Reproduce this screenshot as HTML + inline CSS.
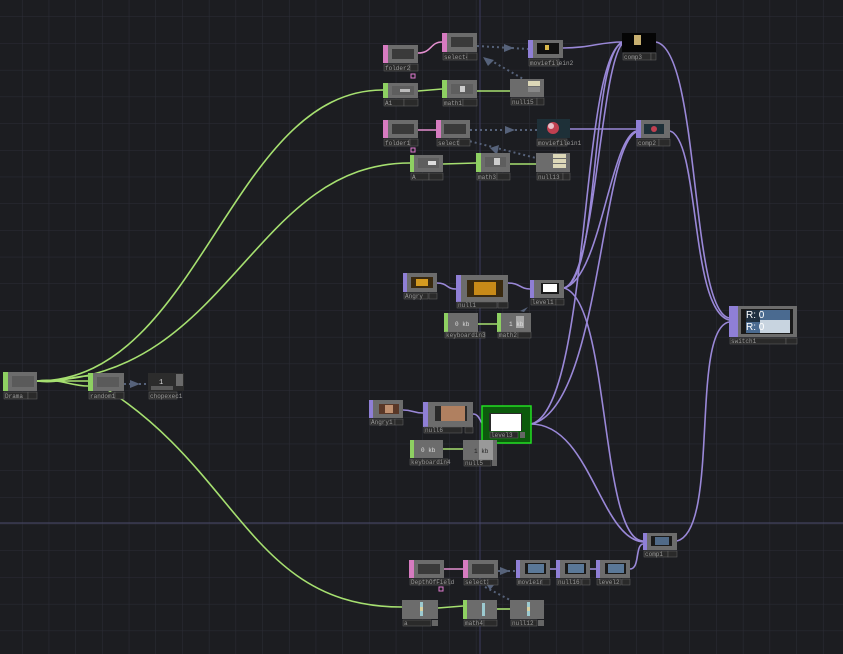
<!DOCTYPE html>
<html><head><meta charset="utf-8">
<style>
html,body{margin:0;padding:0;background:#1c1d21;overflow:hidden}
svg{display:block}
text{font-family:"Liberation Mono",monospace;font-size:6px;fill:#9a9a9a}
</style></head><body>
<svg width="843" height="654" viewBox="0 0 843 654" xmlns="http://www.w3.org/2000/svg">
<defs>
<pattern id="g" x="-4.2" y="-9.7" width="26.7" height="26.7" patternUnits="userSpaceOnUse">
<path d="M26.7 0V26.7M0 26.7H26.7" stroke="#2c2d37" stroke-width="1" fill="none"/>
</pattern>
</defs>
<rect width="843" height="654" fill="#1c1d21"/>
<rect width="843" height="654" fill="url(#g)"/>
<line x1="480" y1="0" x2="480" y2="654" stroke="#3c3c5e" stroke-width="1"/>
<line x1="0" y1="523" x2="843" y2="523" stroke="#4a4a6a" stroke-width="1"/>

<!-- green wires -->
<g stroke="#a6e070" stroke-width="1.6" fill="none">
<path d="M37 381 C200 381 230 90 383 90"/>
<path d="M37 381 C230 381 250 163 410 163"/>
<path d="M37 381 C60 381 70 381 88 381"/>
<path d="M37 381 C60 378 70 386 88 386"/>
<path d="M37 381 C60 384 70 376 88 376"/>
<path d="M100 385 C240 470 250 607 402 607"/>
<path d="M418 91 L442 89"/>
<path d="M477 91 L510 91"/>
<path d="M443 164 L476 163"/>
<path d="M510 164 L536 164"/>
<path d="M478 324 L497 324"/>
<path d="M443 449 L463 449"/>
<path d="M438 608 L463 606"/>
<path d="M497 609 L510 609"/>
</g>
<!-- pink wires -->
<g stroke="#e38fcf" stroke-width="1.5" fill="none">
<path d="M418 53 C432 53 430 42 442 42"/>
<path d="M418 130 L436 130"/>
<path d="M444 569 L463 569"/>
</g>
<!-- purple wires -->
<g stroke="#9a88d8" stroke-width="1.6" fill="none">
<path d="M563 48 C590 48 600 42 622 42"/>
<path d="M570 129 L636 129"/>
<path d="M437 283 C448 283 446 289 456 289"/>
<path d="M508 283 C520 283 520 289 530 289"/>
<path d="M403 410 C413 410 413 413 423 413"/>
<path d="M473 414 C480 414 480 424 484 424"/>
<path d="M564 288 C600 280 590 60 622 42"/>
<path d="M564 288 C595 280 600 70 622 44"/>
<path d="M564 288 C600 280 610 140 636 131"/>
<path d="M564 288 C610 300 600 540 643 541"/>
<path d="M531 424 C590 410 580 60 622 43"/>
<path d="M531 424 C600 410 600 150 636 132"/>
<path d="M531 424 C590 424 600 538 643 542"/>
<path d="M656 42 C700 50 690 310 729 318"/>
<path d="M670 131 C700 140 690 310 729 320"/>
<path d="M677 541 C720 530 690 330 729 322"/>
<path d="M630 569 C640 569 635 545 643 544"/>
<path d="M550 569 L556 569"/>
<path d="M590 569 L596 569"/>
</g>
<!-- dotted references -->
<g stroke="#56627a" stroke-width="2" stroke-dasharray="2 3" fill="none">
<path d="M477 46 L528 49"/>
<path d="M490 60 L525 80"/>
<path d="M470 130 L537 130"/>
<path d="M465 140 L536 158"/>
<path d="M124 384 L148 384"/>
<path d="M498 571 L516 571"/>
<path d="M485 587 L510 600"/>
</g>
<g fill="#56627a">
<polygon points="504,44 514,48 504,52"/>
<polygon points="483,57 494,60 488,66"/>
<polygon points="505,126 515,130 505,134"/>
<polygon points="490,148 499,145 497,155"/>
<polygon points="130,380 140,384 130,388"/>
<polygon points="500,567 510,571 500,575"/>
<polygon points="485,582 494,585 490,590"/>
<polygon points="528,307 524,312 520,311"/>
</g>

<!-- node helper styles done manually -->
<g>
<!-- Drama -->
<rect x="3" y="372" width="34" height="19" fill="#6c6c6c"/><rect x="3" y="372" width="5" height="19" fill="#8ed062"/><rect x="12" y="376" width="22" height="11" fill="#5a5a5a"/>
<rect x="4" y="392" width="24" height="7" fill="#2a2a2a" stroke="#666" stroke-width=".5"/><text x="5" y="398">Drama</text><rect x="28" y="392" width="9" height="7" fill="#2a2a2a" stroke="#666" stroke-width=".5"/>
<!-- random1 -->
<rect x="88" y="373" width="36" height="18" fill="#6c6c6c"/><rect x="88" y="373" width="5" height="18" fill="#8ed062"/><rect x="97" y="377" width="22" height="10" fill="#5a5a5a"/>
<rect x="89" y="392" width="26" height="7" fill="#2a2a2a" stroke="#666" stroke-width=".5"/><text x="90" y="398">random1</text><rect x="115" y="392" width="9" height="7" fill="#2a2a2a" stroke="#666" stroke-width=".5"/>
<!-- chopexec -->
<rect x="148" y="373" width="36" height="18" fill="#2c2c2c"/><rect x="176" y="374" width="7" height="12" fill="#6a6a6a"/><rect x="151" y="386" width="22" height="4" fill="#5a5a5a"/><text x="159" y="384" style="fill:#ddd;font-size:7px">1</text>
<rect x="149" y="392" width="28" height="7" fill="#2a2a2a" stroke="#666" stroke-width=".5"/><text x="150" y="398">chopexec1</text>

<!-- row1 -->
<rect x="383" y="45" width="35" height="18" fill="#6c6c6c"/><rect x="383" y="45" width="5" height="18" fill="#d67bc0"/><rect x="392" y="49" width="22" height="10" fill="#3a3a3a"/>
<rect x="384" y="64" width="26" height="7" fill="#2a2a2a" stroke="#666" stroke-width=".5"/><text x="385" y="70">folder2</text><rect x="410" y="64" width="8" height="7" fill="#2a2a2a" stroke="#666" stroke-width=".5"/>
<rect x="411" y="74" width="4" height="4" fill="none" stroke="#e07ad0"/>
<rect x="442" y="33" width="35" height="19" fill="#6c6c6c"/><rect x="442" y="33" width="5" height="19" fill="#d67bc0"/><rect x="451" y="37" width="22" height="10" fill="#3a3a3a"/>
<rect x="443" y="53" width="24" height="7" fill="#2a2a2a" stroke="#666" stroke-width=".5"/><text x="444" y="59">select4</text><rect x="467" y="53" width="10" height="7" fill="#2a2a2a" stroke="#666" stroke-width=".5"/>
<rect x="528" y="40" width="35" height="18" fill="#6c6c6c"/><rect x="528" y="40" width="5" height="18" fill="#8f7fd6"/><rect x="537" y="43" width="22" height="11" fill="#111"/><rect x="545" y="45" width="4" height="5" fill="#d9b84a"/>
<rect x="529" y="59" width="30" height="7" fill="#2a2a2a" stroke="#666" stroke-width=".5"/><text x="530" y="65">moviefilein2</text>
<rect x="622" y="33" width="34" height="19" fill="#050505"/><rect x="634" y="35" width="7" height="10" fill="#c8b070"/>
<rect x="623" y="53" width="28" height="7" fill="#2a2a2a" stroke="#666" stroke-width=".5"/><text x="624" y="59">comp3</text><rect x="651" y="53" width="5" height="7" fill="#2a2a2a" stroke="#666" stroke-width=".5"/>
<rect x="383" y="83" width="35" height="15" fill="#6c6c6c"/><rect x="383" y="83" width="5" height="15" fill="#8ed062"/><rect x="392" y="86" width="22" height="9" fill="#5e5e5e"/><rect x="400" y="89" width="10" height="3" fill="#bbb"/>
<rect x="384" y="99" width="20" height="7" fill="#2a2a2a" stroke="#666" stroke-width=".5"/><text x="385" y="105">A1</text><rect x="404" y="99" width="14" height="7" fill="#2a2a2a" stroke="#666" stroke-width=".5"/>
<rect x="442" y="80" width="35" height="18" fill="#6c6c6c"/><rect x="442" y="80" width="5" height="18" fill="#8ed062"/><rect x="451" y="84" width="22" height="10" fill="#5e5e5e"/><rect x="460" y="86" width="5" height="6" fill="#ccc"/>
<rect x="443" y="99" width="20" height="7" fill="#2a2a2a" stroke="#666" stroke-width=".5"/><text x="444" y="105">math1</text><rect x="463" y="99" width="14" height="7" fill="#2a2a2a" stroke="#666" stroke-width=".5"/>
<rect x="510" y="79" width="34" height="18" fill="#6c6c6c"/><rect x="528" y="81" width="12" height="5" fill="#ddd8b8"/><rect x="528" y="87" width="12" height="5" fill="#888"/>
<rect x="511" y="98" width="26" height="7" fill="#2a2a2a" stroke="#666" stroke-width=".5"/><text x="512" y="104">null15</text><rect x="537" y="98" width="7" height="7" fill="#2a2a2a" stroke="#666" stroke-width=".5"/>

<!-- row2 -->
<rect x="383" y="120" width="35" height="18" fill="#6c6c6c"/><rect x="383" y="120" width="5" height="18" fill="#d67bc0"/><rect x="392" y="124" width="22" height="10" fill="#3a3a3a"/>
<rect x="384" y="139" width="26" height="7" fill="#2a2a2a" stroke="#666" stroke-width=".5"/><text x="385" y="145">folder1</text><rect x="410" y="139" width="8" height="7" fill="#2a2a2a" stroke="#666" stroke-width=".5"/>
<rect x="411" y="148" width="4" height="4" fill="none" stroke="#e07ad0"/>
<rect x="436" y="120" width="34" height="18" fill="#6c6c6c"/><rect x="436" y="120" width="5" height="18" fill="#d67bc0"/><rect x="444" y="124" width="22" height="10" fill="#3a3a3a"/>
<rect x="437" y="139" width="22" height="7" fill="#2a2a2a" stroke="#666" stroke-width=".5"/><text x="438" y="145">select2</text><rect x="459" y="139" width="11" height="7" fill="#2a2a2a" stroke="#666" stroke-width=".5"/>
<rect x="537" y="119" width="33" height="19" fill="#1e3038"/><circle cx="553" cy="128" r="6" fill="#c04050"/><circle cx="551" cy="126" r="3" fill="#e8c0c8"/>
<rect x="537" y="139" width="30" height="7" fill="#2a2a2a" stroke="#666" stroke-width=".5"/><text x="538" y="145">moviefilein1</text>
<rect x="636" y="120" width="34" height="18" fill="#6c6c6c"/><rect x="636" y="120" width="5" height="18" fill="#8f7fd6"/><rect x="644" y="124" width="20" height="10" fill="#1e3038"/><circle cx="654" cy="129" r="3" fill="#c04050"/>
<rect x="637" y="139" width="22" height="7" fill="#2a2a2a" stroke="#666" stroke-width=".5"/><text x="638" y="145">comp2</text><rect x="659" y="139" width="11" height="7" fill="#2a2a2a" stroke="#666" stroke-width=".5"/>
<rect x="410" y="155" width="33" height="17" fill="#6c6c6c"/><rect x="410" y="155" width="4" height="17" fill="#8ed062"/><rect x="418" y="158" width="21" height="10" fill="#5e5e5e"/><rect x="428" y="161" width="8" height="4" fill="#ddd"/>
<rect x="411" y="173" width="18" height="7" fill="#2a2a2a" stroke="#666" stroke-width=".5"/><text x="412" y="179">A</text><rect x="429" y="173" width="14" height="7" fill="#2a2a2a" stroke="#666" stroke-width=".5"/>
<rect x="476" y="153" width="34" height="19" fill="#6c6c6c"/><rect x="476" y="153" width="5" height="19" fill="#8ed062"/><rect x="485" y="157" width="21" height="10" fill="#5e5e5e"/><rect x="494" y="158" width="6" height="7" fill="#ccc"/>
<rect x="477" y="173" width="20" height="7" fill="#2a2a2a" stroke="#666" stroke-width=".5"/><text x="478" y="179">math3</text><rect x="497" y="173" width="13" height="7" fill="#2a2a2a" stroke="#666" stroke-width=".5"/>
<rect x="536" y="153" width="34" height="19" fill="#6c6c6c"/><rect x="553" y="154" width="13" height="4" fill="#ddd8b8"/><rect x="553" y="159" width="13" height="4" fill="#ddd8b8"/><rect x="553" y="164" width="13" height="4" fill="#ddd8b8"/>
<rect x="537" y="173" width="26" height="7" fill="#2a2a2a" stroke="#666" stroke-width=".5"/><text x="538" y="179">null13</text><rect x="563" y="173" width="7" height="7" fill="#2a2a2a" stroke="#666" stroke-width=".5"/>

<!-- middle -->
<rect x="403" y="273" width="34" height="19" fill="#6c6c6c"/><rect x="403" y="273" width="4" height="19" fill="#8f7fd6"/><rect x="411" y="277" width="22" height="11" fill="#3a2a10"/><rect x="416" y="279" width="12" height="7" fill="#d49a20"/>
<rect x="404" y="293" width="24" height="6" fill="#2a2a2a" stroke="#666" stroke-width=".5"/><text x="405" y="298">Angry</text><rect x="429" y="293" width="8" height="6" fill="#2a2a2a" stroke="#666" stroke-width=".5"/>
<rect x="456" y="275" width="52" height="27" fill="#6c6c6c"/><rect x="456" y="275" width="5" height="27" fill="#8f7fd6"/><rect x="467" y="280" width="36" height="17" fill="#3a2a10"/><rect x="474" y="282" width="22" height="13" fill="#c88a18"/>
<rect x="457" y="302" width="40" height="6" fill="#2a2a2a" stroke="#666" stroke-width=".5"/><text x="458" y="307">null1</text><rect x="498" y="302" width="10" height="6" fill="#2a2a2a" stroke="#666" stroke-width=".5"/>
<rect x="530" y="280" width="34" height="18" fill="#6c6c6c"/><rect x="530" y="280" width="4" height="18" fill="#8f7fd6"/><rect x="541" y="283" width="18" height="11" fill="#1a1a1a"/><rect x="543" y="284" width="14" height="8" fill="#fff"/>
<rect x="531" y="299" width="25" height="6" fill="#2a2a2a" stroke="#666" stroke-width=".5"/><text x="532" y="304">level1</text><rect x="556" y="299" width="8" height="6" fill="#2a2a2a" stroke="#666" stroke-width=".5"/>
<rect x="444" y="313" width="34" height="19" fill="#6c6c6c"/><rect x="444" y="313" width="4" height="19" fill="#8ed062"/><text x="455" y="326" style="fill:#ddd;font-size:6px">0 kb</text>
<rect x="445" y="332" width="40" height="6" fill="#2a2a2a" stroke="#666" stroke-width=".5"/><text x="446" y="337">keyboardin3</text>
<rect x="497" y="313" width="34" height="19" fill="#6c6c6c"/><rect x="497" y="313" width="4" height="19" fill="#8ed062"/><rect x="516" y="316" width="8" height="12" fill="#aaa"/><text x="509" y="326" style="fill:#ddd;font-size:6px">1 kb</text>
<rect x="498" y="332" width="20" height="6" fill="#2a2a2a" stroke="#666" stroke-width=".5"/><text x="499" y="337">math2</text><rect x="518" y="332" width="13" height="6" fill="#2a2a2a" stroke="#666" stroke-width=".5"/>

<!-- switch1 -->
<rect x="729" y="306" width="68" height="31" fill="#6c6c6c"/><rect x="729" y="306" width="9" height="31" fill="#8f7fd6"/><rect x="741" y="309" width="52" height="25" fill="#1a1a1a"/>
<rect x="746" y="310" width="44" height="23" fill="#4a6a90"/><rect x="760" y="320" width="30" height="13" fill="#c8d4e0"/><rect x="746" y="310" width="14" height="12" fill="#203040"/>
<text x="746" y="318" style="fill:#fff;font-size:10px;font-family:'Liberation Sans',sans-serif">R:   0</text>
<text x="746" y="330" style="fill:#fff;font-size:10px;font-family:'Liberation Sans',sans-serif">R:   0</text>
<rect x="730" y="338" width="56" height="6" fill="#2a2a2a" stroke="#666" stroke-width=".5"/><text x="731" y="343">switch1</text><rect x="786" y="338" width="11" height="6" fill="#2a2a2a" stroke="#666" stroke-width=".5"/>

<!-- lower middle -->
<rect x="369" y="400" width="34" height="18" fill="#6c6c6c"/><rect x="369" y="400" width="4" height="18" fill="#8f7fd6"/><rect x="379" y="404" width="20" height="10" fill="#5a3828"/><rect x="385" y="405" width="8" height="8" fill="#c09070"/>
<rect x="370" y="419" width="25" height="6" fill="#2a2a2a" stroke="#666" stroke-width=".5"/><text x="371" y="424">Angry1</text><rect x="395" y="419" width="8" height="6" fill="#2a2a2a" stroke="#666" stroke-width=".5"/>
<rect x="423" y="402" width="50" height="25" fill="#6c6c6c"/><rect x="423" y="402" width="5" height="25" fill="#8f7fd6"/><rect x="435" y="406" width="32" height="15" fill="#2a2a2a"/><rect x="441" y="406" width="24" height="15" fill="#b08060"/>
<rect x="424" y="427" width="38" height="6" fill="#2a2a2a" stroke="#666" stroke-width=".5"/><text x="425" y="432">null6</text><rect x="465" y="427" width="8" height="6" fill="#2a2a2a" stroke="#666" stroke-width=".5"/>
<rect x="482" y="406" width="49" height="37" fill="#0c5a0c" stroke="#22e022" stroke-width="1.5"/><rect x="489" y="413" width="33" height="18" fill="#2a2a2a"/><rect x="491" y="414" width="30" height="17" fill="#fff"/>
<rect x="490" y="432" width="28" height="6" fill="#2a2a2a" stroke="#666" stroke-width=".5"/><text x="491" y="437">level3</text><rect x="520" y="432" width="5" height="6" fill="#666"/>
<rect x="410" y="440" width="33" height="18" fill="#6c6c6c"/><rect x="410" y="440" width="4" height="18" fill="#8ed062"/><text x="421" y="452" style="fill:#ddd;font-size:6px">0 kb</text>
<rect x="410" y="459" width="38" height="6" fill="#2a2a2a" stroke="#666" stroke-width=".5"/><text x="411" y="464">keyboardin4</text>
<rect x="463" y="440" width="34" height="20" fill="#6c6c6c"/><rect x="479" y="440" width="14" height="20" fill="#999"/><text x="474" y="453" style="fill:#222;font-size:6px">1 kb</text>
<rect x="464" y="460" width="27" height="6" fill="#2a2a2a" stroke="#666" stroke-width=".5"/><text x="465" y="465">null5</text><rect x="492" y="460" width="5" height="6" fill="#666"/>

<!-- comp1 -->
<rect x="643" y="533" width="34" height="17" fill="#6c6c6c"/><rect x="643" y="533" width="4" height="17" fill="#8f7fd6"/><rect x="651" y="536" width="21" height="10" fill="#1a1a1a"/><rect x="655" y="537" width="14" height="8" fill="#506a88"/>
<rect x="644" y="551" width="24" height="6" fill="#2a2a2a" stroke="#666" stroke-width=".5"/><text x="645" y="556">comp1</text><rect x="668" y="551" width="9" height="6" fill="#2a2a2a" stroke="#666" stroke-width=".5"/>

<!-- bottom row -->
<rect x="409" y="560" width="35" height="18" fill="#6c6c6c"/><rect x="409" y="560" width="5" height="18" fill="#d67bc0"/><rect x="418" y="564" width="22" height="10" fill="#3a3a3a"/>
<rect x="410" y="579" width="40" height="6" fill="#2a2a2a" stroke="#666" stroke-width=".5"/><text x="411" y="584">DepthOfField</text>
<rect x="439" y="587" width="4" height="4" fill="none" stroke="#e07ad0"/>
<rect x="463" y="560" width="35" height="18" fill="#6c6c6c"/><rect x="463" y="560" width="5" height="18" fill="#d67bc0"/><rect x="472" y="564" width="22" height="10" fill="#3a3a3a"/>
<rect x="464" y="579" width="24" height="6" fill="#2a2a2a" stroke="#666" stroke-width=".5"/><text x="465" y="584">select3</text><rect x="488" y="579" width="10" height="6" fill="#2a2a2a" stroke="#666" stroke-width=".5"/>
<rect x="516" y="560" width="34" height="18" fill="#6c6c6c"/><rect x="516" y="560" width="4" height="18" fill="#8f7fd6"/><rect x="525" y="563" width="21" height="11" fill="#1a1a1a"/><rect x="528" y="564" width="16" height="9" fill="#5a7898"/>
<rect x="517" y="579" width="24" height="6" fill="#2a2a2a" stroke="#666" stroke-width=".5"/><text x="518" y="584">moviein</text><rect x="542" y="579" width="8" height="6" fill="#2a2a2a" stroke="#666" stroke-width=".5"/>
<rect x="556" y="560" width="34" height="18" fill="#6c6c6c"/><rect x="556" y="560" width="4" height="18" fill="#8f7fd6"/><rect x="565" y="563" width="21" height="11" fill="#1a1a1a"/><rect x="568" y="564" width="16" height="9" fill="#5a7898"/>
<rect x="557" y="579" width="24" height="6" fill="#2a2a2a" stroke="#666" stroke-width=".5"/><text x="558" y="584">null16</text><rect x="582" y="579" width="8" height="6" fill="#2a2a2a" stroke="#666" stroke-width=".5"/>
<rect x="596" y="560" width="34" height="18" fill="#6c6c6c"/><rect x="596" y="560" width="4" height="18" fill="#8f7fd6"/><rect x="605" y="563" width="21" height="11" fill="#1a1a1a"/><rect x="608" y="564" width="16" height="9" fill="#5a7898"/>
<rect x="597" y="579" width="24" height="6" fill="#2a2a2a" stroke="#666" stroke-width=".5"/><text x="598" y="584">level2</text><rect x="622" y="579" width="8" height="6" fill="#2a2a2a" stroke="#666" stroke-width=".5"/>
<rect x="402" y="600" width="36" height="19" fill="#6c6c6c"/><rect x="420" y="602" width="3" height="14" fill="#9ccad0"/><rect x="420" y="607" width="3" height="4" fill="#d8d0a0"/>
<rect x="403" y="620" width="28" height="6" fill="#2a2a2a" stroke="#666" stroke-width=".5"/><text x="404" y="625">a</text><rect x="432" y="620" width="6" height="6" fill="#666"/>
<rect x="463" y="600" width="34" height="19" fill="#6c6c6c"/><rect x="463" y="600" width="4" height="19" fill="#8ed062"/><rect x="482" y="603" width="3" height="13" fill="#9ccad0"/>
<rect x="464" y="620" width="20" height="6" fill="#2a2a2a" stroke="#666" stroke-width=".5"/><text x="465" y="625">math4</text><rect x="484" y="620" width="13" height="6" fill="#2a2a2a" stroke="#666" stroke-width=".5"/>
<rect x="510" y="600" width="34" height="19" fill="#6c6c6c"/><rect x="527" y="602" width="3" height="14" fill="#9ccad0"/><rect x="527" y="607" width="3" height="4" fill="#d8d0a0"/>
<rect x="511" y="620" width="26" height="6" fill="#2a2a2a" stroke="#666" stroke-width=".5"/><text x="512" y="625">null12</text><rect x="538" y="620" width="6" height="6" fill="#666"/>
</g>
</svg>
</body></html>
